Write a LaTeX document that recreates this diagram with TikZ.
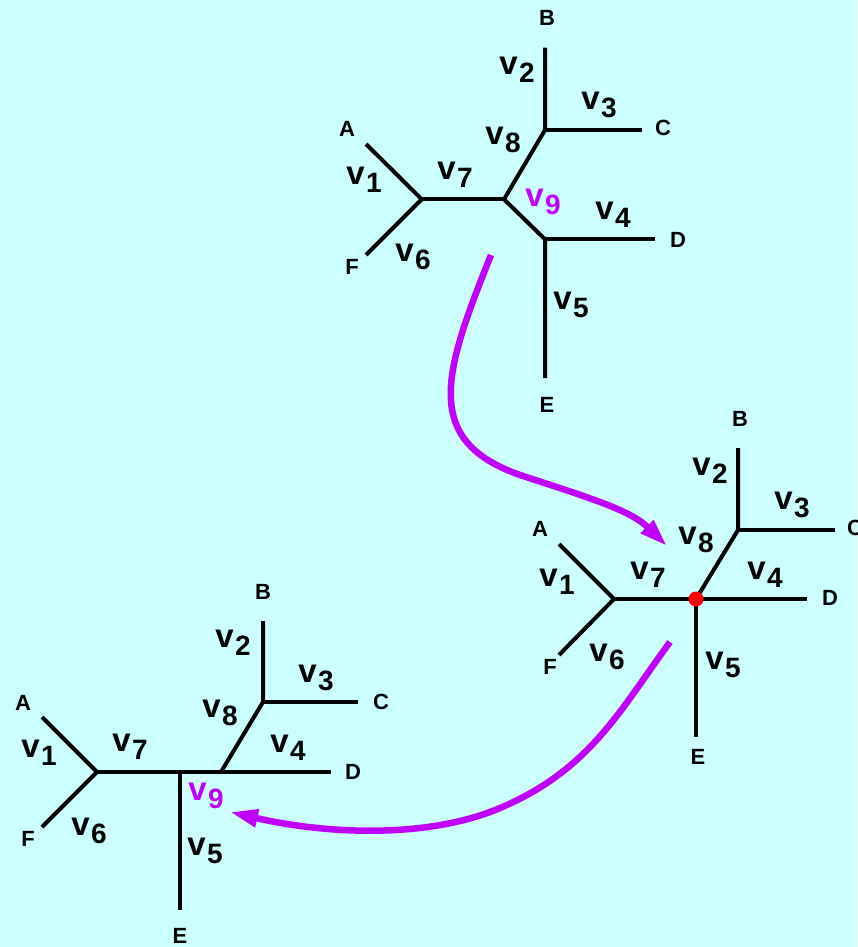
\documentclass[tikz,border=0pt]{standalone}
\usepackage{fontspec}
\setmainfont{Liberation Sans}
\usetikzlibrary{arrows.meta}
\definecolor{bgc}{RGB}{204,255,255}
\definecolor{mag}{RGB}{191,0,255}
\newcommand{\vlab}[1]{{\bfseries\fontsize{33}{33}\selectfont v}\hspace{1.5pt}\raisebox{-8pt}{\bfseries\fontsize{28}{28}\selectfont #1}}
\begin{document}
\begin{tikzpicture}[x=1pt,y=-1pt,
  edge/.style={line width=4pt, line join=miter},
  leaf/.style={font=\bfseries\fontsize{22}{22}\selectfont, inner sep=0pt},
  blab/.style={inner sep=0pt},
  mlab/.style={inner sep=0pt, text=mag},
  flow/.style={draw=mag, line width=6.5pt, -{Triangle[length=28pt,width=17pt]}}]
\fill[bgc] (0,0) rectangle (857,947);
\useasboundingbox (0,0) rectangle (857,947);

% ---------- Tree 1 ----------
\coordinate (t1L) at (421.7,199.3);
\coordinate (t1A) at (366,144);
\coordinate (t1F) at (366,255);
\coordinate (t1C) at (504,199.3);
\coordinate (t1U) at (545,130);
\coordinate (t1B) at (545,47.7);
\coordinate (t1Ce) at (641.7,130);
\coordinate (t1Dn) at (545,239.3);
\coordinate (t1De) at (655,239.3);
\coordinate (t1E) at (545,378);
\draw[edge] (t1A) -- (t1L) -- (t1F);
\draw[edge] (t1L) -- (t1C);
\draw[edge] (t1C) -- (t1U) -- (t1B);
\draw[edge] (t1U) -- (t1Ce);
\draw[edge] (t1C) -- (t1Dn) -- (t1E);
\draw[edge] (t1Dn) -- (t1De);
\node[leaf] (t1a) at (347,129) {A};
\node[leaf] (t1b) at (547,18) {B};
\node[leaf] (t1c) at (663,128) {C};
\node[leaf] (t1d) at (678,240) {D};
\node[leaf] (t1e) at (547,405) {E};
\node[leaf] (t1f) at (352,267) {F};
\node[blab] (t1v1) at (364,180) {\vlab{1}};
\node[blab] (t1v2) at (517,70) {\vlab{2}};
\node[blab] (t1v3) at (599,105) {\vlab{3}};
\node[blab] (t1v4) at (613,215) {\vlab{4}};
\node[blab] (t1v5) at (571,305) {\vlab{5}};
\node[blab] (t1v6) at (413,257) {\vlab{6}};
\node[blab] (t1v7) at (455,175) {\vlab{7}};
\node[blab] (t1v8) at (503,140) {\vlab{8}};
\node[mlab] (t1v9) at (543,202) {\vlab{9}};

% ---------- Tree 2 ----------
\coordinate (t2L) at (614,599);
\coordinate (t2A) at (559,544);
\coordinate (t2F) at (559,655);
\coordinate (t2C) at (696,599);
\coordinate (t2U) at (738,530);
\coordinate (t2B) at (738,448);
\coordinate (t2Ce) at (835,530);
\coordinate (t2De) at (807,599);
\coordinate (t2E) at (696,737);
\draw[edge] (t2A) -- (t2L) -- (t2F);
\draw[edge] (t2L) -- (t2De);
\draw[edge] (t2C) -- (t2U) -- (t2B);
\draw[edge] (t2U) -- (t2Ce);
\draw[edge] (t2C) -- (t2E);
\fill[red] (t2C) circle (7.5pt);
\node[leaf] (t2a) at (540,529) {A};
\node[leaf] (t2b) at (740,419) {B};
\node[leaf] (t2c) at (855,528) {C};
\node[leaf] (t2d) at (830,598) {D};
\node[leaf] (t2e) at (698,757) {E};
\node[leaf] (t2f) at (550,667) {F};
\node[blab] (t2v1) at (557,582) {\vlab{1}};
\node[blab] (t2v2) at (710,471) {\vlab{2}};
\node[blab] (t2v3) at (792,505) {\vlab{3}};
\node[blab] (t2v4) at (765,575) {\vlab{4}};
\node[blab] (t2v5) at (723,665) {\vlab{5}};
\node[blab] (t2v6) at (607,657) {\vlab{6}};
\node[blab] (t2v7) at (648,575) {\vlab{7}};
\node[blab] (t2v8) at (696,540) {\vlab{8}};

% ---------- Tree 3 ----------
\coordinate (t3L) at (97,772);
\coordinate (t3A) at (42,717);
\coordinate (t3F) at (42,827);
\coordinate (t3N9) at (180,772);
\coordinate (t3N8) at (221,772);
\coordinate (t3U) at (263,702);
\coordinate (t3B) at (263,621);
\coordinate (t3Ce) at (358,702);
\coordinate (t3De) at (331,772);
\coordinate (t3E) at (180,910);
\draw[edge] (t3A) -- (t3L) -- (t3F);
\draw[edge] (t3L) -- (t3De);
\draw[edge] (t3N9) -- (t3E);
\draw[edge] (t3N8) -- (t3U) -- (t3B);
\draw[edge] (t3U) -- (t3Ce);
\node[leaf] (t3a) at (23,703) {A};
\node[leaf] (t3b) at (263,592) {B};
\node[leaf] (t3c) at (381,702) {C};
\node[leaf] (t3d) at (353,772) {D};
\node[leaf] (t3e) at (180,936) {E};
\node[leaf] (t3f) at (28,839) {F};
\node[blab] (t3v1) at (39,753) {\vlab{1}};
\node[blab] (t3v2) at (233,643) {\vlab{2}};
\node[blab] (t3v3) at (316,678) {\vlab{3}};
\node[blab] (t3v4) at (288,748) {\vlab{4}};
\node[blab] (t3v5) at (205,851) {\vlab{5}};
\node[blab] (t3v6) at (89,831) {\vlab{6}};
\node[blab] (t3v7) at (130,747) {\vlab{7}};
\node[blab] (t3v8) at (220,713) {\vlab{8}};
\node[mlab] (t3v9) at (206,796) {\vlab{9}};

% ---------- Arrows ----------
\coordinate (a1s) at (491,255);
\coordinate (a1m) at (520,475);
\coordinate (a1e) at (667,546);
\draw[flow] (a1s) .. controls (445,370) and (420,440) .. (a1m)
  .. controls (590,498) and (630,510) .. (a1e);
\coordinate (a2s) at (670,642);
\coordinate (a2m) at (500,808);
\coordinate (a2e) at (230,812);
\draw[flow] (a2s) .. controls (620,710) and (590,770) .. (a2m)
  .. controls (430,838) and (330,835) .. (a2e);
\end{tikzpicture}
\end{document}
